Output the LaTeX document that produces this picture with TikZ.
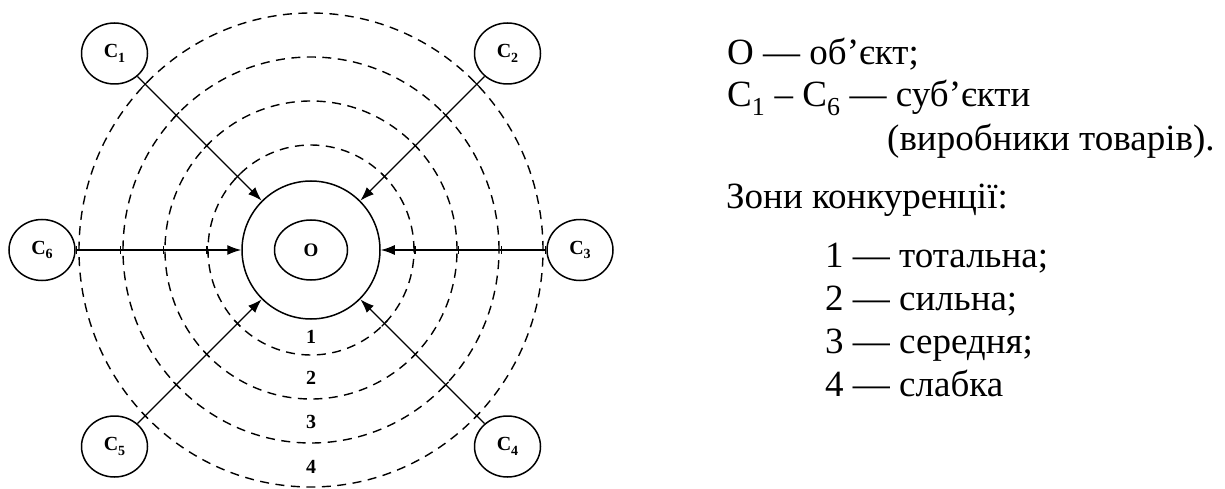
\documentclass[tikz,border=0pt]{standalone}
\usepackage{fontspec}
\setmainfont{Liberation Serif}
\usetikzlibrary{shapes.geometric,arrows.meta,calc}
\newcommand{\lowsub}[1]{\raisebox{-4.5pt}{\fontsize{14}{15}\selectfont\bfseries #1}}
\tikzset{
  sat/.style={draw, line width=1.5pt, ellipse, minimum width=66pt, minimum height=61pt, inner sep=0pt, font=\fontsize{20}{22}\selectfont\bfseries},
  zone/.style={draw, line width=1.4pt, dash pattern=on 9pt off 6.5pt},
  arr/.style={line width=1.4pt, -{Latex[length=14pt,width=10pt]}},
  tickmark/.style={line width=1.2pt},
  num/.style={font=\fontsize{20}{22}\selectfont\bfseries, inner sep=0pt},
  txt/.style={font=\fontsize{37}{43}\selectfont, inner sep=0pt, anchor=base west}
}
\begin{document}
\begin{tikzpicture}[x=1pt,y=-1pt]
\useasboundingbox (0,0) rectangle (1225,489);
% zones
\draw[zone] (311,250) ellipse [x radius=103pt, y radius=105pt];
\draw[zone] (311,250) ellipse [x radius=146pt, y radius=149pt];
\draw[zone] (311,250) ellipse [x radius=188pt, y radius=193pt];
\draw[zone] (311,250) ellipse [x radius=232pt, y radius=237pt];
% object
\node[draw, circle, line width=1.5pt, minimum size=138pt, inner sep=0pt] (obj) at (311,250) {};
\node[draw, ellipse, line width=1.5pt, minimum width=73pt, minimum height=60pt, inner sep=0pt, font=\fontsize{19}{21}\selectfont\bfseries] (o) at (311,250) {O};
% subjects
\node[sat] (c1) at (114.5,53.5) {C\lowsub{1}};
\node[sat] (c2) at (507.5,53.5) {C\lowsub{2}};
\node[sat] (c3) at (580,250) {C\lowsub{3}};
\node[sat] (c4) at (507.5,446.5) {C\lowsub{4}};
\node[sat] (c5) at (114.5,446.5) {C\lowsub{5}};
\node[sat] (c6) at (42,250) {C\lowsub{6}};
% arrows
\foreach \c in {c1,c2,c3,c4,c5,c6}{\draw[arr] (\c) -- (obj);}
% ticks at zone borders
\foreach \a in {0,45,135,180,225,315}{
  \foreach \r in {104,147.5,190.5,234.5}{
    \draw[tickmark] ($(obj.center)+(\a:\r)$) ++(-\a+90:4pt) -- ++(-\a-90:8pt);
  }
}
% zone numbers
\node[num] (z1) at (311,337) {1};
\node[num] (z2) at (311,378) {2};
\node[num] (z3) at (311,422) {3};
\node[num] (z4) at (311,467) {4};
% legend
\node[txt] (t1) at (727,65) {O — об’єкт;};
\node[txt] (t2) at (727,107) {C\textsubscript{1} – C\textsubscript{6} — суб’єкти};
\node[txt] (t3) at (887,151) {(виробники товарів).};
\node[txt] (t4) at (726,208) {Зони конкуренції:};
\node[txt] (t5) at (825,267) {1 — тотальна;};
\node[txt] (t6) at (825,310) {2 — сильна;};
\node[txt] (t7) at (825,353) {3 — середня;};
\node[txt] (t8) at (825,396) {4 — слабка};
\end{tikzpicture}
\end{document}
